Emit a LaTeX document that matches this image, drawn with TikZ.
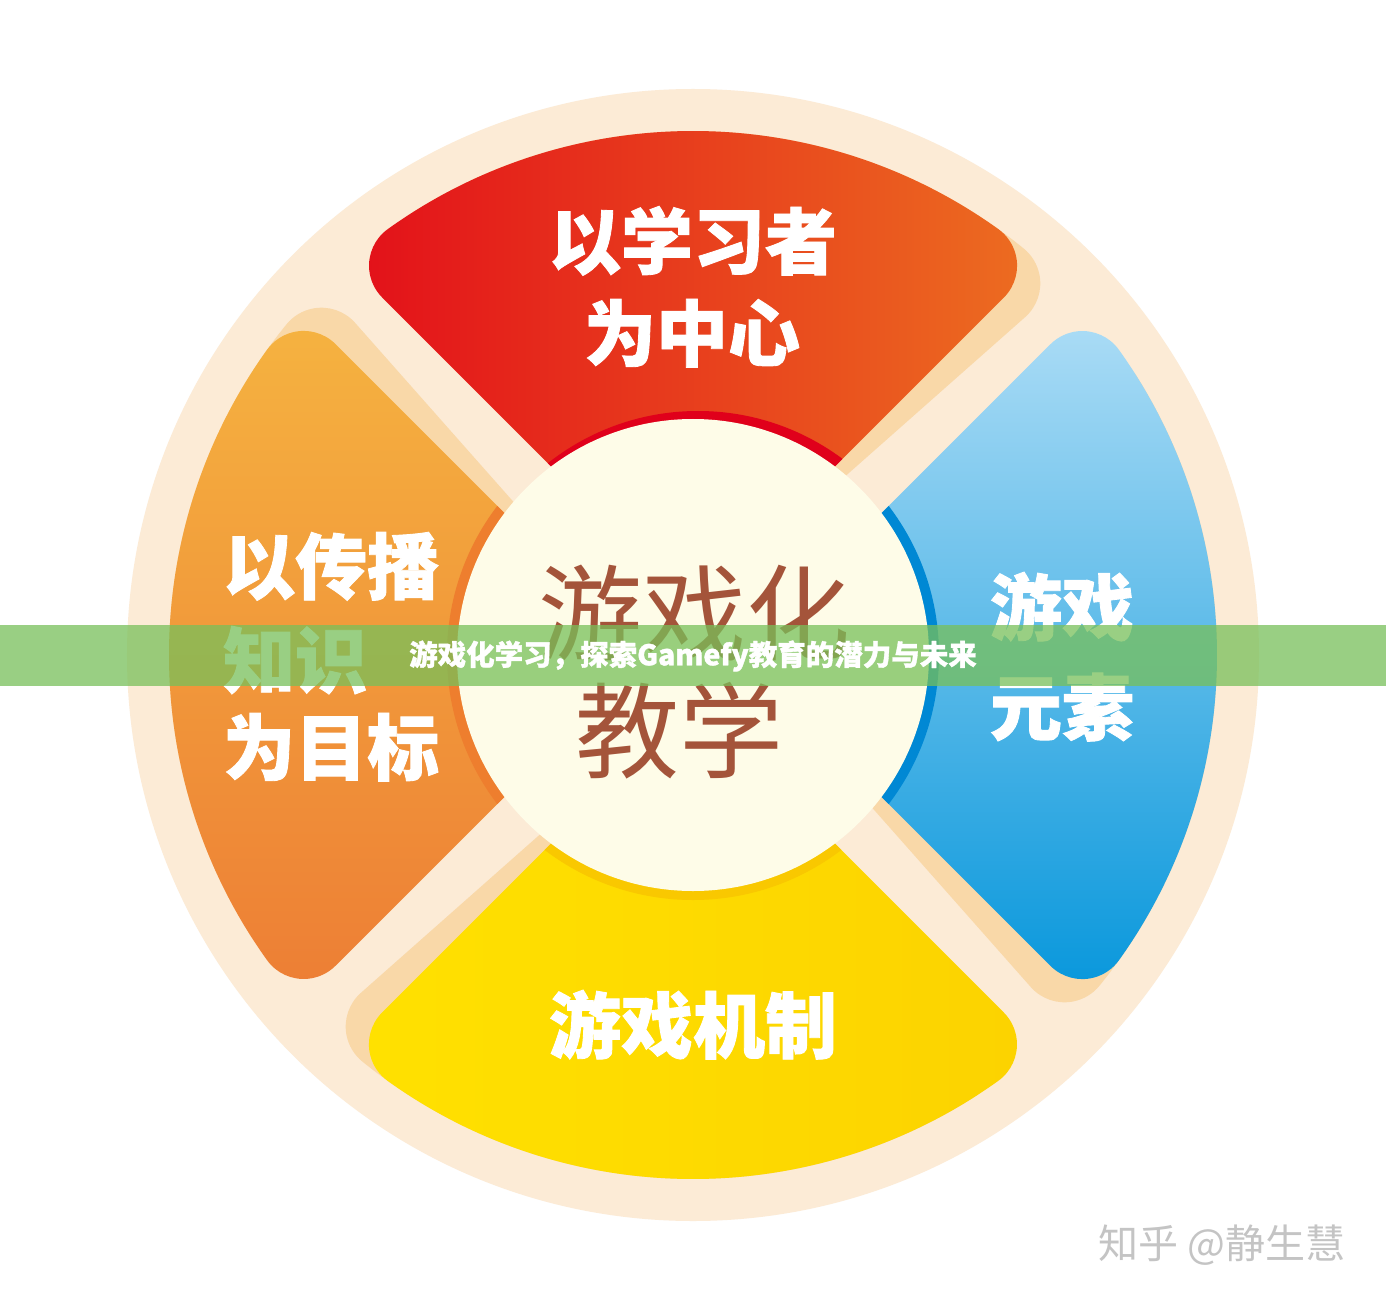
\documentclass[tikz,border=0pt]{standalone}
\usepackage{fontspec}
\newfontfamily\cjk{Noto Sans CJK SC}[BoldFeatures={FakeBold=1.2}]
\definecolor{creamc}{HTML}{FCEBD6}
\definecolor{peachc}{HTML}{F9D8A8}
\definecolor{redL}{HTML}{E3121A}
\definecolor{redR}{HTML}{EC6B20}
\definecolor{redrim}{HTML}{E0001B}
\definecolor{orT}{HTML}{F5B240}
\definecolor{orB}{HTML}{ED7F35}
\definecolor{orrim}{HTML}{EE7E2E}
\definecolor{blT}{HTML}{A9DBF5}
\definecolor{blB}{HTML}{0A98DC}
\definecolor{blrim}{HTML}{0088D4}
\definecolor{yeL}{HTML}{FFE100}
\definecolor{yeR}{HTML}{FCD300}
\definecolor{yerim}{HTML}{F9C800}
\definecolor{hubc}{HTML}{FEFCE8}
\definecolor{brushc}{HTML}{A4543A}
\definecolor{bannerg}{RGB}{120,192,90}
\definecolor{wmgray}{HTML}{C4C4C4}
\newcommand\mypetal[1]{({#1+90}:46.7) -- ({#1+48.99}:473.8) arc[start angle={#1-45}, end angle={#1+54.37}, radius=45] arc[start angle={#1+54.37}, end angle={#1+125.63}, radius=524] arc[start angle={#1+125.63}, end angle={#1+225}, radius=45] -- cycle}
\tikzset{
  petaltext/.style={text=white, font=\cjk\bfseries\fontsize{72}{72}\selectfont, inner sep=0pt, text height=60pt, text depth=5pt},
  brushtext/.style={text=brushc, font=\cjk\fontsize{104}{104}\selectfont, inner sep=0pt, text height=87pt, text depth=7pt},
}
\begin{document}
\begin{tikzpicture}[x=1pt,y=1pt]
\useasboundingbox (-693,655) rectangle (693,-657);
\fill[white] (-693,655) rectangle (693,-657);
% outer cream disc
\fill[creamc] (0,0) circle[radius=566];
% shadows
\fill[peachc] \mypetal{-3.5};
\fill[peachc] \mypetal{86.5};
\fill[peachc] \mypetal{176.5};
\fill[peachc] \mypetal{266.5};
% petals
\shade[left color=redL, right color=redR] \mypetal{0};
\shade[top color=orT, bottom color=orB] \mypetal{90};
\shade[left color=yeL, right color=yeR] \mypetal{180};
\shade[top color=blT, bottom color=blB] \mypetal{270};
% rims
\begin{scope}\clip \mypetal{0}; \fill[redrim] (5,2) circle[radius=242]; \end{scope}
\begin{scope}\clip \mypetal{90}; \fill[orrim] (0,0) circle[radius=246]; \end{scope}
\begin{scope}\clip \mypetal{180}; \fill[yerim] (0,0) circle[radius=245]; \end{scope}
\begin{scope}\clip \mypetal{270}; \fill[blrim] (0,0) circle[radius=246]; \end{scope}
% hub
\node[circle, fill=hubc, minimum size=472pt, inner sep=0pt] (hub) at (0,0) {};
% petal texts
\node[petaltext] (t1a) at (0,414) {以学习者};
\node[petaltext] (t1b) at (-1,322) {为中心};
\node[petaltext, anchor=west] (t2a) at (-470,89) {以传播};
\node[petaltext, anchor=west] (t2b) at (-470,-5) {知识};
\node[petaltext, anchor=west] (t2c) at (-470,-92) {为目标};
\node[petaltext] (t3a) at (369,48) {游戏};
\node[petaltext] (t3b) at (369,-52) {元素};
\node[petaltext] (t4) at (0,-370) {游戏机制};
% hub texts
\node[brushtext] (h1) at (2,43) {游戏化};
\node[brushtext] (h2) at (-13,-75) {教学};
% banner
\fill[bannerg, opacity=0.75] (-693,30) rectangle (693,-31);
\node[text=white, font=\cjk\bfseries\fontsize{28.5}{28.5}\selectfont, inner sep=0pt] (title) at (0,-1) {游戏化学习，探索Gamefy教育的潜力与未来};
% watermark
\node[text=wmgray, font=\cjk\fontsize{40}{40}\selectfont, inner sep=0pt] (wm) at (529,-590) {知乎 @静生慧};
\end{tikzpicture}
\end{document}
